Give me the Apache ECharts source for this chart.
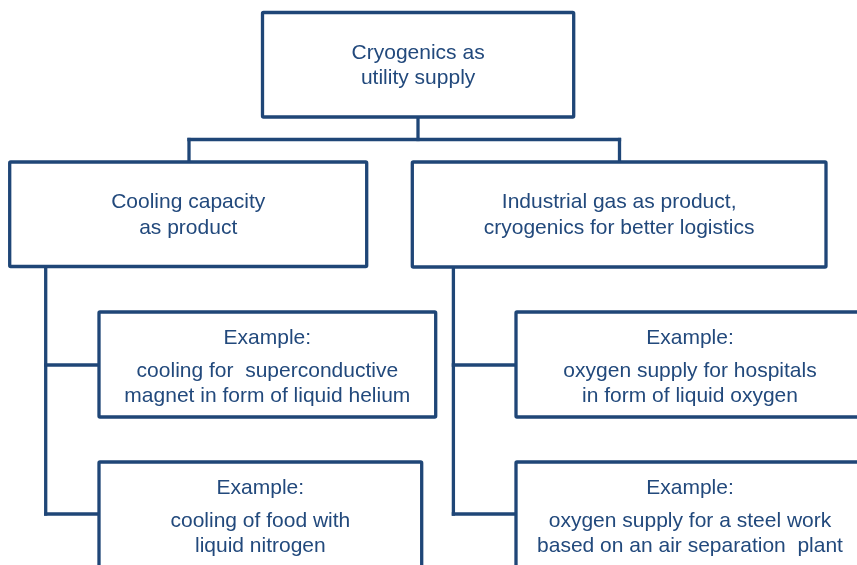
<!DOCTYPE html>
<html>
<head>
<meta charset="utf-8">
<script src="https://cdn.jsdelivr.net/npm/echarts@6/dist/echarts.min.js"></script>
<style>html,body{margin:0;padding:0;background:#fff;}#c{width:857px;height:565px;}</style>
</head>
<body>
<div id="c"></div>
<script>
// ---- content ----
const boxTitles = [
  ["Cryogenics as", "utility supply"],
  ["Cooling capacity", "as product"],
  ["Industrial gas as product,", "cryogenics for better logistics"],
  ["cooling for  superconductive", "magnet in form of liquid helium"],
  ["cooling of food with", "liquid nitrogen"],
  ["oxygen supply for hospitals", "in form of liquid oxygen"],
  ["oxygen supply for a steel work", "based on an air separation  plant"]
];
const boxHeaders = ["", "", "", "Example:", "Example:", "Example:", "Example:"];

// ---- diagram geometry (diagram units on hidden axes) ----
const boxX0 = [262.5, 9.7, 412.3, 99, 99, 516, 516];
const boxY0 = [12.5, 162, 162, 312, 462, 312, 462];
const boxX1 = [573.7, 366.7, 826, 435.7, 421.7, 864, 864];
const boxY1 = [117, 266.5, 267, 417, 610, 417, 610];

const segX0 = [418, 189, 189, 619.5, 45.7, 45.7, 45.7, 453.4, 453.4, 453.4];
const segY0 = [117, 139.5, 139.5, 139.5, 266.5, 365, 514, 266.5, 365, 514];
const segX1 = [418, 619.5, 189, 619.5, 45.7, 99, 99, 453.4, 516, 516];
const segY1 = [139.5, 139.5, 162, 162, 514, 365, 514, 514, 365, 514];

const INK = '#1f4677';
const TEXT = '#22497c';
const FONT = '21px "Liberation Sans", Arial, sans-serif';

const boxData = boxTitles.map((t, i) => [boxX0[i], boxY0[i], boxX1[i], boxY1[i], i]);
const segData = segX0.map((x, i) => [x, segY0[i], segX1[i], segY1[i]]);

const chart = echarts.init(document.getElementById('c'), null, {renderer: 'canvas'});
chart.setOption({
  animation: false,
  backgroundColor: '#ffffff',
  grid: {left: 0, right: 0, top: 0, bottom: 0},
  xAxis: {type: 'value', min: 0, max: 857, show: false},
  yAxis: {type: 'value', min: 0, max: 565, inverse: true, show: false},
  series: [
    {
      type: 'custom',
      coordinateSystem: 'cartesian2d',
      clip: false,
      data: segData,
      renderItem: function (params, api) {
        const a = api.coord([api.value(0), api.value(1)]);
        const b = api.coord([api.value(2), api.value(3)]);
        return {
          type: 'line',
          shape: {x1: a[0], y1: a[1], x2: b[0], y2: b[1]},
          style: {stroke: INK, lineWidth: 3.3, lineCap: 'square'}
        };
      }
    },
    {
      type: 'custom',
      coordinateSystem: 'cartesian2d',
      clip: false,
      data: boxData,
      renderItem: function (params, api) {
        const i = api.value(4);
        const p0 = api.coord([api.value(0), api.value(1)]);
        const p1 = api.coord([api.value(2), api.value(3)]);
        const cx = (p0[0] + p1[0]) / 2;
        const children = [{
          type: 'rect',
          shape: {x: p0[0], y: p0[1], width: p1[0] - p0[0], height: p1[1] - p0[1], r: 1},
          style: {fill: '#ffffff', stroke: INK, lineWidth: 3.3}
        }];
        const lines = boxTitles[i];
        let first, step = 25;
        if (boxHeaders[i]) {
          children.push({
            type: 'text',
            style: {text: boxHeaders[i], x: cx, y: p0[1] + 26, fill: TEXT, font: FONT, align: 'center', verticalAlign: 'middle'}
          });
          first = p0[1] + 59;
        } else {
          first = p0[1] + 40.5;
          step = 25.5;
        }
        lines.forEach((ln, k) => {
          children.push({
            type: 'text',
            style: {text: ln, x: cx, y: first + k * step, fill: TEXT, font: FONT, align: 'center', verticalAlign: 'middle'}
          });
        });
        return {type: 'group', children: children};
      }
    }
  ]
});
</script>
</body>
</html>
